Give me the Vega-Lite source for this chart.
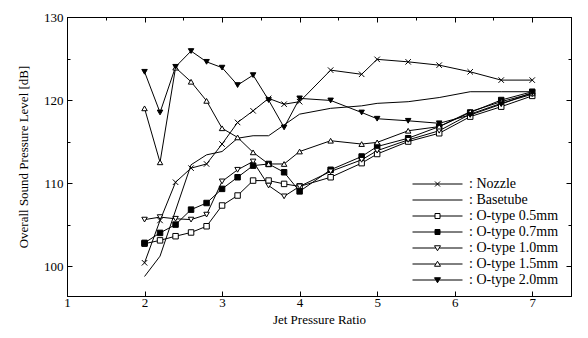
{
  "$schema": "https://vega.github.io/schema/vega-lite/v6.json",
  "width": 504,
  "height": 279,
  "autosize": {"type": "none"},
  "padding": {"left": 67, "top": 17, "right": 17, "bottom": 42},
  "background": "white",
  "config": {
    "font": "Liberation Serif",
    "view": {"stroke": "black", "strokeWidth": 1},
    "axis": {"domainColor": "black", "domainWidth": 1, "tickColor": "black", "tickWidth": 1, "labelColor": "black", "titleColor": "black", "labelFont": "Liberation Serif", "titleFont": "Liberation Serif", "labelFontSize": 13, "titleFontSize": 13, "titleFontWeight": "normal", "grid": false}
  },
  "data": {"values": [
    {"s": "Nozzle", "x": 2.0, "y": 100.4}, {"s": "Nozzle", "x": 2.2, "y": 105.5}, {"s": "Nozzle", "x": 2.4, "y": 110.1}, {"s": "Nozzle", "x": 2.6, "y": 111.8}, {"s": "Nozzle", "x": 2.8, "y": 112.3}, {"s": "Nozzle", "x": 3.0, "y": 114.7}, {"s": "Nozzle", "x": 3.2, "y": 117.3}, {"s": "Nozzle", "x": 3.4, "y": 118.7}, {"s": "Nozzle", "x": 3.6, "y": 120.2}, {"s": "Nozzle", "x": 3.8, "y": 119.5}, {"s": "Nozzle", "x": 4.0, "y": 119.8}, {"s": "Nozzle", "x": 4.4, "y": 123.6}, {"s": "Nozzle", "x": 4.8, "y": 123.1}, {"s": "Nozzle", "x": 5.0, "y": 124.9}, {"s": "Nozzle", "x": 5.4, "y": 124.6}, {"s": "Nozzle", "x": 5.8, "y": 124.2}, {"s": "Nozzle", "x": 6.2, "y": 123.4}, {"s": "Nozzle", "x": 6.6, "y": 122.4}, {"s": "Nozzle", "x": 7.0, "y": 122.4},
    {"s": "Basetube", "x": 2.0, "y": 98.75}, {"s": "Basetube", "x": 2.2, "y": 101.2}, {"s": "Basetube", "x": 2.6, "y": 112.2}, {"s": "Basetube", "x": 2.8, "y": 113.4}, {"s": "Basetube", "x": 3.0, "y": 113.8}, {"s": "Basetube", "x": 3.2, "y": 115.4}, {"s": "Basetube", "x": 3.4, "y": 115.7}, {"s": "Basetube", "x": 3.6, "y": 115.7}, {"s": "Basetube", "x": 4.0, "y": 118.3}, {"s": "Basetube", "x": 4.4, "y": 119.0}, {"s": "Basetube", "x": 4.8, "y": 119.3}, {"s": "Basetube", "x": 5.0, "y": 119.6}, {"s": "Basetube", "x": 5.4, "y": 119.8}, {"s": "Basetube", "x": 5.8, "y": 120.3}, {"s": "Basetube", "x": 6.2, "y": 121.0}, {"s": "Basetube", "x": 6.6, "y": 121.0}, {"s": "Basetube", "x": 7.0, "y": 121.0},
    {"s": "O-type 0.5mm", "x": 2.0, "y": 102.7}, {"s": "O-type 0.5mm", "x": 2.2, "y": 103.1}, {"s": "O-type 0.5mm", "x": 2.4, "y": 103.6}, {"s": "O-type 0.5mm", "x": 2.6, "y": 104.05}, {"s": "O-type 0.5mm", "x": 2.8, "y": 104.8}, {"s": "O-type 0.5mm", "x": 3.0, "y": 107.3}, {"s": "O-type 0.5mm", "x": 3.2, "y": 108.5}, {"s": "O-type 0.5mm", "x": 3.4, "y": 110.3}, {"s": "O-type 0.5mm", "x": 3.6, "y": 110.3}, {"s": "O-type 0.5mm", "x": 3.8, "y": 109.9}, {"s": "O-type 0.5mm", "x": 4.0, "y": 109.6}, {"s": "O-type 0.5mm", "x": 4.4, "y": 110.7}, {"s": "O-type 0.5mm", "x": 4.8, "y": 112.4}, {"s": "O-type 0.5mm", "x": 5.0, "y": 113.5}, {"s": "O-type 0.5mm", "x": 5.4, "y": 115.0}, {"s": "O-type 0.5mm", "x": 5.8, "y": 116.0}, {"s": "O-type 0.5mm", "x": 6.2, "y": 118.0}, {"s": "O-type 0.5mm", "x": 6.6, "y": 119.2}, {"s": "O-type 0.5mm", "x": 7.0, "y": 120.5},
    {"s": "O-type 0.7mm", "x": 2.0, "y": 102.8}, {"s": "O-type 0.7mm", "x": 2.2, "y": 104.0}, {"s": "O-type 0.7mm", "x": 2.4, "y": 105.0}, {"s": "O-type 0.7mm", "x": 2.6, "y": 106.8}, {"s": "O-type 0.7mm", "x": 2.8, "y": 107.6}, {"s": "O-type 0.7mm", "x": 3.0, "y": 109.3}, {"s": "O-type 0.7mm", "x": 3.2, "y": 110.7}, {"s": "O-type 0.7mm", "x": 3.4, "y": 112.1}, {"s": "O-type 0.7mm", "x": 3.6, "y": 112.3}, {"s": "O-type 0.7mm", "x": 3.8, "y": 111.3}, {"s": "O-type 0.7mm", "x": 4.0, "y": 109.0}, {"s": "O-type 0.7mm", "x": 4.4, "y": 111.6}, {"s": "O-type 0.7mm", "x": 4.8, "y": 113.2}, {"s": "O-type 0.7mm", "x": 5.0, "y": 114.4}, {"s": "O-type 0.7mm", "x": 5.4, "y": 115.4}, {"s": "O-type 0.7mm", "x": 5.8, "y": 116.8}, {"s": "O-type 0.7mm", "x": 6.2, "y": 118.5}, {"s": "O-type 0.7mm", "x": 6.6, "y": 120.0}, {"s": "O-type 0.7mm", "x": 7.0, "y": 121.0},
    {"s": "O-type 1.0mm", "x": 2.0, "y": 105.6}, {"s": "O-type 1.0mm", "x": 2.2, "y": 105.9}, {"s": "O-type 1.0mm", "x": 2.4, "y": 105.7}, {"s": "O-type 1.0mm", "x": 2.6, "y": 105.6}, {"s": "O-type 1.0mm", "x": 2.8, "y": 106.2}, {"s": "O-type 1.0mm", "x": 3.0, "y": 110.2}, {"s": "O-type 1.0mm", "x": 3.2, "y": 111.6}, {"s": "O-type 1.0mm", "x": 3.4, "y": 112.6}, {"s": "O-type 1.0mm", "x": 3.6, "y": 109.7}, {"s": "O-type 1.0mm", "x": 3.8, "y": 108.4}, {"s": "O-type 1.0mm", "x": 4.0, "y": 109.6}, {"s": "O-type 1.0mm", "x": 4.4, "y": 111.4}, {"s": "O-type 1.0mm", "x": 4.8, "y": 112.8}, {"s": "O-type 1.0mm", "x": 5.0, "y": 113.9}, {"s": "O-type 1.0mm", "x": 5.4, "y": 115.2}, {"s": "O-type 1.0mm", "x": 5.8, "y": 116.3}, {"s": "O-type 1.0mm", "x": 6.2, "y": 118.3}, {"s": "O-type 1.0mm", "x": 6.6, "y": 119.6}, {"s": "O-type 1.0mm", "x": 7.0, "y": 120.7},
    {"s": "O-type 1.5mm", "x": 2.0, "y": 119.0}, {"s": "O-type 1.5mm", "x": 2.2, "y": 112.5}, {"s": "O-type 1.5mm", "x": 2.4, "y": 123.9}, {"s": "O-type 1.5mm", "x": 2.6, "y": 122.2}, {"s": "O-type 1.5mm", "x": 2.8, "y": 119.9}, {"s": "O-type 1.5mm", "x": 3.0, "y": 116.6}, {"s": "O-type 1.5mm", "x": 3.2, "y": 115.5}, {"s": "O-type 1.5mm", "x": 3.4, "y": 113.7}, {"s": "O-type 1.5mm", "x": 3.6, "y": 112.3}, {"s": "O-type 1.5mm", "x": 3.8, "y": 112.3}, {"s": "O-type 1.5mm", "x": 4.0, "y": 113.8}, {"s": "O-type 1.5mm", "x": 4.4, "y": 115.1}, {"s": "O-type 1.5mm", "x": 4.8, "y": 114.7}, {"s": "O-type 1.5mm", "x": 5.0, "y": 114.9}, {"s": "O-type 1.5mm", "x": 5.4, "y": 116.3}, {"s": "O-type 1.5mm", "x": 5.8, "y": 116.8}, {"s": "O-type 1.5mm", "x": 6.2, "y": 118.6}, {"s": "O-type 1.5mm", "x": 6.6, "y": 119.8}, {"s": "O-type 1.5mm", "x": 7.0, "y": 120.8},
    {"s": "O-type 2.0mm", "x": 2.0, "y": 123.4}, {"s": "O-type 2.0mm", "x": 2.2, "y": 118.5}, {"s": "O-type 2.0mm", "x": 2.4, "y": 124.0}, {"s": "O-type 2.0mm", "x": 2.6, "y": 125.9}, {"s": "O-type 2.0mm", "x": 2.8, "y": 124.6}, {"s": "O-type 2.0mm", "x": 3.0, "y": 123.9}, {"s": "O-type 2.0mm", "x": 3.2, "y": 121.8}, {"s": "O-type 2.0mm", "x": 3.4, "y": 123.0}, {"s": "O-type 2.0mm", "x": 3.6, "y": 120.0}, {"s": "O-type 2.0mm", "x": 3.8, "y": 116.7}, {"s": "O-type 2.0mm", "x": 4.0, "y": 120.2}, {"s": "O-type 2.0mm", "x": 4.4, "y": 119.95}, {"s": "O-type 2.0mm", "x": 4.8, "y": 118.5}, {"s": "O-type 2.0mm", "x": 5.0, "y": 117.75}, {"s": "O-type 2.0mm", "x": 5.4, "y": 117.5}, {"s": "O-type 2.0mm", "x": 5.8, "y": 117.2}, {"s": "O-type 2.0mm", "x": 6.2, "y": 118.2}, {"s": "O-type 2.0mm", "x": 6.6, "y": 119.5}, {"s": "O-type 2.0mm", "x": 7.0, "y": 120.9}
  ]},
  "layer": [
    {
      "mark": {"type": "line", "color": "black", "strokeWidth": 1},
      "encoding": {
        "x": {"field": "x", "type": "quantitative", "scale": {"domain": [1, 7.5], "nice": false, "zero": false},
          "axis": {"orient": "bottom", "values": [1, 1.5, 2, 2.5, 3, 3.5, 4, 4.5, 5, 5.5, 6, 6.5, 7, 7.5], "format": "d", "labelExpr": "datum.value % 1 === 0 ? datum.label : ''", "labelFlush": false, "labelOverlap": false, "tickSize": {"condition": {"test": "datum.value % 1 === 0", "value": -5}, "value": -3}, "labelPadding": 5, "title": "Jet Pressure Ratio", "titlePadding": 4}},
        "y": {"field": "y", "type": "quantitative", "scale": {"domain": [96.4, 130], "nice": false, "zero": false},
          "axis": {"orient": "left", "values": [100, 105, 110, 115, 120, 125, 130], "format": "d", "labelExpr": "datum.value % 10 === 0 ? datum.label : ''", "labelFlush": false, "labelOverlap": false, "tickSize": {"condition": {"test": "datum.value % 10 === 0", "value": -5}, "value": -3}, "labelPadding": 9, "title": "Overall Sound Pressure Level [dB]", "titlePadding": 13}},
        "detail": {"field": "s", "type": "nominal"}
      }
    },
    {
      "transform": [{"filter": "datum.s !== 'Basetube'"}],
      "mark": {"type": "point", "stroke": "black", "strokeWidth": 1, "size": 30, "opacity": 1},
      "encoding": {
        "x": {"field": "x", "type": "quantitative", "scale": {"domain": [1, 7.5], "nice": false, "zero": false},
          "axis": {"orient": "top", "values": [1, 1.5, 2, 2.5, 3, 3.5, 4, 4.5, 5, 5.5, 6, 6.5, 7, 7.5], "labels": false, "title": null, "tickSize": {"condition": {"test": "datum.value % 1 === 0", "value": -5}, "value": -3}}},
        "y": {"field": "y", "type": "quantitative", "scale": {"domain": [96.4, 130], "nice": false, "zero": false},
          "axis": {"orient": "right", "values": [100, 105, 110, 115, 120, 125, 130], "labels": false, "title": null, "tickSize": {"condition": {"test": "datum.value % 10 === 0", "value": -5}, "value": -3}}},
        "shape": {"field": "s", "type": "nominal",
          "scale": {"domain": ["Nozzle", "Basetube", "O-type 0.5mm", "O-type 0.7mm", "O-type 1.0mm", "O-type 1.5mm", "O-type 2.0mm"],
                    "range": ["M-1,-1L1,1M-1,1L1,-1", "M0,0", "square", "square", "triangle-down", "triangle-up", "triangle-down"]},
          "legend": null},
        "fill": {"field": "s", "type": "nominal",
          "scale": {"domain": ["Nozzle", "Basetube", "O-type 0.5mm", "O-type 0.7mm", "O-type 1.0mm", "O-type 1.5mm", "O-type 2.0mm"],
                    "range": ["white", "white", "white", "black", "white", "white", "black"]},
          "legend": null}
      }
    },
    {
      "transform": [{"filter": "false"}],
      "mark": {"type": "point", "strokeWidth": 1, "opacity": 1},
      "encoding": {
        "shape": {"field": "s", "type": "nominal",
          "scale": {"domain": ["Nozzle", "Basetube", "O-type 0.5mm", "O-type 0.7mm", "O-type 1.0mm", "O-type 1.5mm", "O-type 2.0mm"],
                    "range": [
                      "M-1,0L1,0M-0.1,-0.1L0.1,0.1M-0.1,0.1L0.1,-0.1",
                      "M-1,0L1,0",
                      "M-1,0L-0.1,0M0.1,0L1,0M-0.1,-0.1L0.1,-0.1L0.1,0.1L-0.1,0.1Z",
                      "M-1,0L-0.1,0M0.1,0L1,0M-0.1,-0.1L0.1,-0.1L0.1,0.1L-0.1,0.1Z",
                      "M-1,0L-0.07,0M0.07,0L1,0M-0.12,-0.09L0.12,-0.09L0,0.11Z",
                      "M-1,0L-0.07,0M0.07,0L1,0M-0.12,0.09L0.12,0.09L0,-0.11Z",
                      "M-1,0L-0.07,0M0.07,0L1,0M-0.12,-0.09L0.12,-0.09L0,0.11Z"
                    ]},
          "legend": {
            "orient": "none", "legendX": 345, "legendY": 159, "padding": 0, "title": null,
            "symbolSize": 2500, "clipHeight": 16, "rowPadding": 0, "labelOffset": 6,
            "symbolStrokeWidth": 1, "symbolOpacity": 1,
            "labelFont": "Liberation Serif", "labelFontSize": 14, "labelColor": "black",
            "labelExpr": "': ' + datum.label"
          }},
        "fill": {"field": "s", "type": "nominal",
          "scale": {"domain": ["Nozzle", "Basetube", "O-type 0.5mm", "O-type 0.7mm", "O-type 1.0mm", "O-type 1.5mm", "O-type 2.0mm"],
                    "range": ["white", "white", "white", "black", "white", "white", "black"]}},
        "stroke": {"field": "s", "type": "nominal",
          "scale": {"domain": ["Nozzle", "Basetube", "O-type 0.5mm", "O-type 0.7mm", "O-type 1.0mm", "O-type 1.5mm", "O-type 2.0mm"],
                    "range": ["black", "black", "black", "black", "black", "black", "black"]}}
      }
    }
  ],
  "resolve": {"axis": {"x": "independent", "y": "independent"}, "scale": {"shape": "independent", "fill": "independent", "stroke": "independent"}}
}
